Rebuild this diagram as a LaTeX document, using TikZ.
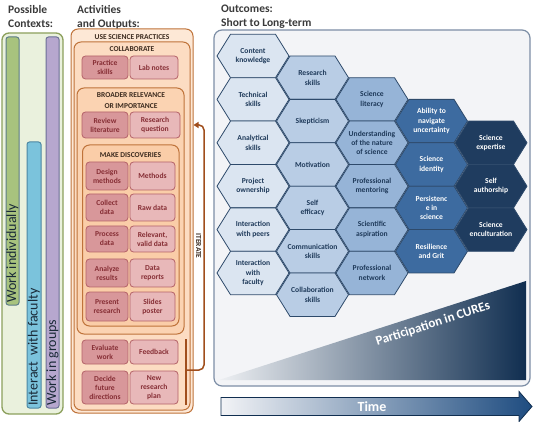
\documentclass[tikz,border=0pt]{standalone}
\usepackage{fontspec}
\setmainfont{Carlito}
\usetikzlibrary{arrows.meta}
\definecolor{hdr}{HTML}{3A3A3A}
\definecolor{ctxfill}{HTML}{EAF1DD}
\definecolor{ctxdraw}{HTML}{8CA05C}
\definecolor{gbar}{HTML}{A8C37E}
\definecolor{gbard}{HTML}{5C7C86}
\definecolor{bbar}{HTML}{7BC3DC}
\definecolor{bbard}{HTML}{4C87A2}
\definecolor{pbar}{HTML}{B6A7CE}
\definecolor{pbard}{HTML}{6B6F96}
\definecolor{bartext}{HTML}{1A2A38}
\definecolor{orD}{HTML}{BF733A}
\definecolor{orA}{HTML}{FDE8D6}
\definecolor{orB}{HTML}{FCDCC2}
\definecolor{orC}{HTML}{FBD3B2}
\definecolor{orE}{HTML}{FACDA8}
\definecolor{orT}{HTML}{3B2A1E}
\definecolor{actF}{HTML}{D8979A}
\definecolor{outF}{HTML}{E8B8B9}
\definecolor{pinkD}{HTML}{B46268}
\definecolor{pinkT}{HTML}{862E35}
\definecolor{iterC}{HTML}{A04E1C}
\definecolor{panelF}{HTML}{F3F4F7}
\definecolor{panelD}{HTML}{7D8EA6}
\definecolor{hxA}{HTML}{DBE5F1}
\definecolor{hxB}{HTML}{B9CDE5}
\definecolor{hxC}{HTML}{96B4D7}
\definecolor{hxE}{HTML}{3D6BA0}
\definecolor{hxF}{HTML}{1F3C5F}
\definecolor{hxD}{HTML}{2E4A6B}
\definecolor{hxT}{HTML}{1F3A5A}
\definecolor{navy}{HTML}{102E50}
\definecolor{triL}{HTML}{EEF0F3}
\definecolor{triM}{HTML}{4F6A8C}
\definecolor{timeL}{HTML}{F2F3F6}
\definecolor{timeM}{HTML}{5A80AB}
\definecolor{timeR}{HTML}{1E4C80}
\tikzset{
 heading/.style={anchor=north west, inner sep=0pt, align=left, text=hdr, font=\fontsize{11.5}{14}\selectfont\bfseries},
 ctxpanel/.style={draw=ctxdraw, fill=ctxfill, line width=1.3pt, rounded corners=7pt, inner sep=0pt},
 barbox/.style={rounded corners=2.5pt, line width=1pt, inner sep=0pt},
 barlabel/.style={rotate=90, anchor=west, inner sep=0pt, text=bartext, font=\fontsize{14}{14}\selectfont},
 container/.style={draw=orD, line width=1pt, rounded corners=7pt, inner sep=0pt},
 contlabel/.style={inner sep=0pt, text=orT, align=center, font=\fontsize{7.5}{10.5}\selectfont\bfseries},
 pinkbox/.style={draw=pinkD, line width=0.8pt, rounded corners=3.5pt, inner sep=0pt, align=center, text=pinkT, font=\fontsize{7.6}{9}\selectfont\bfseries},
 actbox/.style={pinkbox, fill=actF},
 outbox/.style={pinkbox, fill=outF},
 iterline/.style={draw=iterC, line width=1.5pt},
 hexpath/.style={draw=hxD, line width=0.8pt},
 hextext/.style={inner sep=0pt, align=center, font=\fontsize{7.6}{9.4}\selectfont\bfseries},
}
\newcommand\boxnode[7]{%
 \node[#1, anchor=center, minimum width={#5-#3}, minimum height={#6-#4}] (#2) at ({(#3+#5)/2},{(#4+#6)/2}) {#7};}
\newcommand\hexcell[6]{%
 \pgfmathsetmacro\hcx{253+59.5*#2}%
 \pgfmathsetmacro\hcy{56+21.7*#2+43.4*#3}%
 \filldraw[hexpath, fill=#4] (\hcx-36,\hcy) -- (\hcx-22.5,\hcy-21.7) -- (\hcx+22.5,\hcy-21.7) -- (\hcx+36,\hcy) -- (\hcx+22.5,\hcy+21.7) -- (\hcx-22.5,\hcy+21.7) -- cycle;
 \node[hextext, text=#5] (#1) at (\hcx,\hcy) {#6};}
\begin{document}
\begin{tikzpicture}[x=1pt,y=-1pt]
\fill[white] (0,0) rectangle (533,422);
\useasboundingbox (0,0) rectangle (533,422);
% headings
\node[heading] (h1) at (8,5) {Possible\\Contexts:};
\node[heading] (h2) at (77,5) {Activities\\and Outputs:};
\node[heading] (h3) at (221,5) {Outcomes:\\Short to Long-term};
% contexts
\boxnode{ctxpanel}{ctx}{2}{33}{63}{414}{}
\boxnode{barbox, fill=gbar, draw=gbard}{gbarN}{6}{37}{19}{305}{}
\boxnode{barbox, fill=bbar, draw=bbard}{bbarN}{27}{142}{41}{408}{}
\boxnode{barbox, fill=pbar, draw=pbard}{pbarN}{46}{37}{59}{408}{}
\node[barlabel] (gtxt) at (12.5,303) {Work individually};
\node[barlabel] (btxt) at (34,406) {Interact\ \ with faculty};
\node[barlabel] (ptxt) at (52.5,406) {Work in groups};
% activities containers
\boxnode{container, fill=orA}{use}{71}{29}{193}{413}{}
\node[contlabel] (useL) at (132,37) {USE SCIENCE PRACTICES};
\boxnode{container, fill=orB}{collab}{74}{42}{190}{410}{}
\node[contlabel] (collabL) at (132,49.5) {COLLABORATE};
\boxnode{container, fill=orC}{broad}{77}{88}{184}{334}{}
\node[contlabel] (broadL) at (131,100.5) {BROADER RELEVANCE\\OR IMPORTANCE};
\boxnode{container, fill=orE}{make}{82.5}{145}{179}{326}{}
\node[contlabel] (makeL) at (130.5,155.5) {MAKE DISCOVERIES};
% small boxes
\boxnode{actbox}{ps}{82}{56}{128}{79}{Practice\\skills}
\boxnode{outbox}{ln}{130}{56}{178}{79}{Lab notes}
\boxnode{actbox}{rl}{82}{112}{128}{138}{Review\\literature}
\boxnode{outbox}{rq}{130}{112}{180}{138}{Research\\question}
\boxnode{actbox}{dm}{86}{162}{128}{190}{Design\\methods}
\boxnode{outbox}{me}{130}{162}{175}{190}{Methods}
\boxnode{actbox}{cd}{86}{194}{128}{221}{Collect\\data}
\boxnode{outbox}{rd}{130}{194}{175}{221}{Raw data}
\boxnode{actbox}{pd}{86}{226}{128}{252}{Process\\data}
\boxnode{outbox}{vd}{130}{226}{175}{252}{Relevant,\\valid data}
\boxnode{actbox}{ar}{86}{259}{128}{287}{Analyze\\results}
\boxnode{outbox}{dr}{130}{259}{175}{287}{Data\\reports}
\boxnode{actbox}{pr}{86}{292}{128}{321}{Present\\research}
\boxnode{outbox}{sp}{130}{292}{175}{321}{Slides\\poster}
\boxnode{actbox}{ew}{82}{340}{128}{364}{Evaluate\\work}
\boxnode{outbox}{fb}{130}{340}{178}{364}{Feedback}
\boxnode{actbox}{df}{82}{371}{128}{404}{Decide\\future\\directions}
\boxnode{outbox}{np}{130}{371}{178}{404}{New\\research\\plan}
% iterate
\coordinate (brT) at (186,339);
\coordinate (brB) at (186,405);
\coordinate (brM) at (186,370);
\coordinate (itx) at (204,0);
\draw[iterline] (brT) -- (brB);
\draw[iterline, rounded corners=5pt, -{Triangle[length=5pt,width=6pt]}] (brM) -- (brM -| itx) -- (itx |- rq.east) -- (use.east |- rq.east);
\node[rotate=-90, inner sep=0pt, text=orT, font=\fontsize{7.5}{7.5}\selectfont\bfseries] (iterL) at (198.5,246) {ITERATE};
% outcomes panel
\draw[fill=panelF, draw=panelD, line width=1.2pt, rounded corners=8pt] (214,30) rectangle (530,386);
\shade[left color=triL, middle color=triM, right color=navy] (219,380) -- (526,380) -- (526,281) -- cycle;
\node[rotate=17.9, inner sep=0pt, text=white, font=\fontsize{13}{13}\selectfont\bfseries] (cures) at (433,324) {Participation in CUREs};
% hexagons
\hexcell{hCK}{0}{0}{hxA}{hxT}{Content\\knowledge}
\hexcell{hTS}{0}{1}{hxA}{hxT}{Technical\\skills}
\hexcell{hAS}{0}{2}{hxA}{hxT}{Analytical\\skills}
\hexcell{hPO}{0}{3}{hxA}{hxT}{Project\\ownership}
\hexcell{hIP}{0}{4}{hxA}{hxT}{Interaction\\with peers}
\hexcell{hIF}{0}{5}{hxA}{hxT}{Interaction\\with\\faculty}
\hexcell{hRS}{1}{0}{hxB}{hxT}{Research\\skills}
\hexcell{hSK}{1}{1}{hxB}{hxT}{Skepticism}
\hexcell{hMO}{1}{2}{hxB}{hxT}{Motivation}
\hexcell{hSE}{1}{3}{hxB}{hxT}{Self\\efficacy}
\hexcell{hCS}{1}{4}{hxB}{hxT}{Communication\\skills}
\hexcell{hCO}{1}{5}{hxB}{hxT}{Collaboration\\skills}
\hexcell{hSL}{2}{0}{hxC}{hxT}{Science\\literacy}
\hexcell{hUN}{2}{1}{hxC}{hxT}{Understanding\\of the nature\\of science}
\hexcell{hPM}{2}{2}{hxC}{hxT}{Professional\\mentoring}
\hexcell{hSA}{2}{3}{hxC}{hxT}{Scientific\\aspiration}
\hexcell{hPN}{2}{4}{hxC}{hxT}{Professional\\network}
\hexcell{hAN}{3}{0}{hxE}{white}{Ability to\\navigate\\uncertainty}
\hexcell{hSI}{3}{1}{hxE}{white}{Science\\identity}
\hexcell{hPS}{3}{2}{hxE}{white}{Persistenc\\e in\\science}
\hexcell{hRG}{3}{3}{hxE}{white}{Resilience\\and Grit}
\hexcell{hEX}{4}{0}{hxF}{white}{Science\\expertise}
\hexcell{hAU}{4}{1}{hxF}{white}{Self\\authorship}
\hexcell{hEN}{4}{2}{hxF}{white}{Science\\enculturation}
% time arrow
\shadedraw[left color=timeL, middle color=timeM, right color=timeR, draw=navy, line width=0.8pt] (221,397.5) -- (519,397.5) -- (519,391.5) -- (532,406.5) -- (519,421.5) -- (519,415.5) -- (221,415.5) -- cycle;
\node[inner sep=0pt, text=white, font=\fontsize{14}{14}\selectfont\bfseries] (timeL) at (372,406.5) {Time};
\end{tikzpicture}
\end{document}
